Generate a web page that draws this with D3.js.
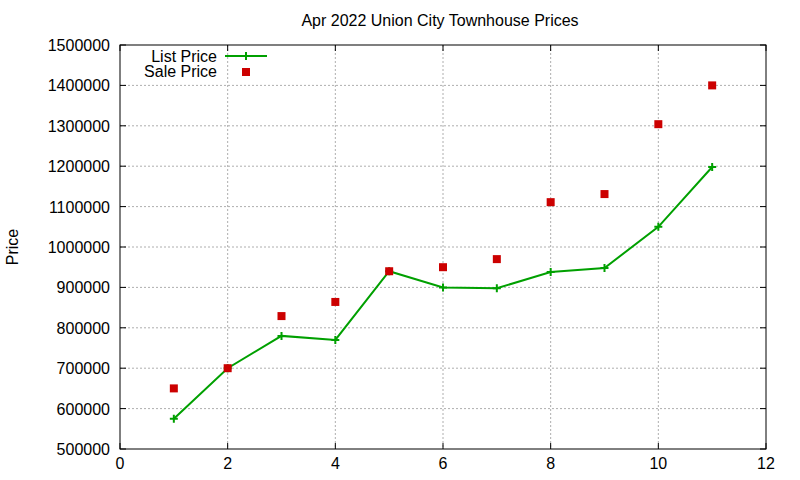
<!DOCTYPE html>
<html><head><meta charset="utf-8">
<script src="https://cdn.jsdelivr.net/npm/d3@7"></script>
<style>body{margin:0;background:#fff}svg{font-family:"Liberation Sans",Arial,sans-serif}</style>
</head><body><svg id="c" width="800" height="480"></svg>
<script>
const xs=[1,2,3,4,5,6,7,8,9,10,11];
const listPrice=[575000,700000,780000,770000,940000,900000,898000,938000,948000,1050000,1198000];
const salePrice=[650000,700000,829000,864000,940000,950000,970000,1111000,1131000,1304000,1400000];
const xTicks=[0,2,4,6,8,10,12];
const yTicks=[500000,600000,700000,800000,900000,1000000,1100000,1200000,1300000,1400000,1500000];
const FS=16;
const svg=d3.select("#c");
const L=120,R=766,T=45,B=449;
const x=d3.scaleLinear().domain([0,12]).range([L,R]);
const y=d3.scaleLinear().domain([500000,1500000]).range([B,T]);
const g=svg.append("g");
xTicks.slice(1,-1).forEach(t=>g.append("line").attr("x1",x(t)).attr("x2",x(t)).attr("y1",T).attr("y2",B).attr("stroke","#999").attr("stroke-dasharray","2,2").attr("stroke-width",0.8));
yTicks.slice(1,-1).forEach(t=>g.append("line").attr("x1",L).attr("x2",R).attr("y1",y(t)).attr("y2",y(t)).attr("stroke","#999").attr("stroke-dasharray","2,2").attr("stroke-width",0.8));
xTicks.forEach(t=>{g.append("line").attr("x1",x(t)).attr("x2",x(t)).attr("y1",B).attr("y2",B-6).attr("stroke","#000");g.append("line").attr("x1",x(t)).attr("x2",x(t)).attr("y1",T).attr("y2",T+6).attr("stroke","#000");
 g.append("text").attr("x",x(t)).attr("y",B+20).attr("text-anchor","middle").attr("font-size",FS).text(t);});
yTicks.forEach(t=>{g.append("line").attr("x1",L).attr("x2",L+6).attr("y1",y(t)).attr("y2",y(t)).attr("stroke","#000");g.append("line").attr("x1",R).attr("x2",R-6).attr("y1",y(t)).attr("y2",y(t)).attr("stroke","#000");
 g.append("text").attr("x",L-10).attr("y",y(t)+6).attr("text-anchor","end").attr("font-size",FS).text(t);});
g.append("rect").attr("x",L).attr("y",T).attr("width",R-L).attr("height",B-T).attr("fill","none").attr("stroke","#000");
svg.append("text").attr("x",440).attr("y",26).attr("text-anchor","middle").attr("font-size",FS).text("Apr 2022 Union City Townhouse Prices");
svg.append("text").attr("transform","translate(18,247) rotate(-90)").attr("text-anchor","middle").attr("font-size",FS).text("Price");
const col="#00a000";
const line=d3.line().x((d,i)=>x(xs[i])).y(d=>y(d));
svg.append("path").datum(listPrice).attr("d",line).attr("fill","none").attr("stroke",col).attr("stroke-width",2);
function plus(cx,cy){svg.append("path").attr("d",`M${cx-4},${cy}H${cx+4}M${cx},${cy-4}V${cy+4}`).attr("stroke",col).attr("stroke-width",2);}
listPrice.forEach((d,i)=>plus(x(xs[i]),y(d)));
salePrice.forEach((d,i)=>svg.append("rect").attr("x",x(xs[i])-4).attr("y",y(d)-4).attr("width",8).attr("height",8).attr("fill","#cc0000"));
svg.append("text").attr("x",217).attr("y",62).attr("text-anchor","end").attr("font-size",FS).text("List Price");
svg.append("line").attr("x1",225).attr("x2",267).attr("y1",56).attr("y2",56).attr("stroke",col).attr("stroke-width",2);
plus(246,56);
svg.append("text").attr("x",217).attr("y",77).attr("text-anchor","end").attr("font-size",FS).text("Sale Price");
svg.append("rect").attr("x",242).attr("y",68).attr("width",8).attr("height",8).attr("fill","#cc0000");
</script></body></html>
